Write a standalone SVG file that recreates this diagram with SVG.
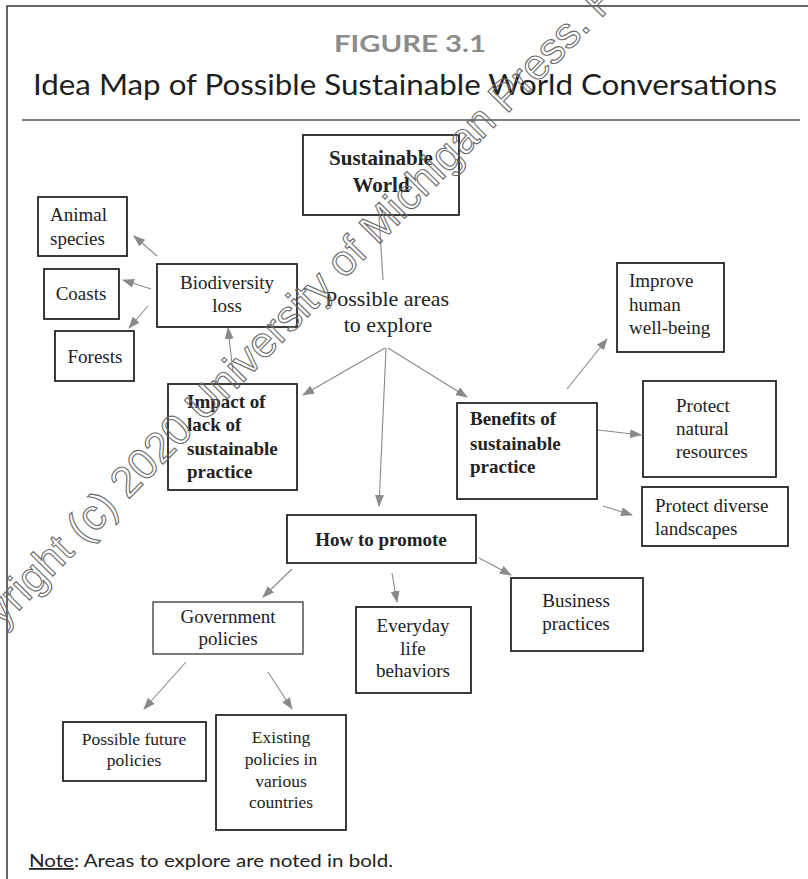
<svg xmlns="http://www.w3.org/2000/svg" width="808" height="879" viewBox="0 0 808 879">
<defs>
<marker id="ah" markerUnits="userSpaceOnUse" markerWidth="12" markerHeight="9" refX="11" refY="4.5" orient="auto">
<path d="M0,0 L12,4.5 L0,9 z" fill="#8a8a8a"/>
</marker>
<style>
.box{fill:#fff;stroke:#262626;stroke-width:1.8}
.t{font-family:"Liberation Serif","Times New Roman",serif;font-size:19px;fill:#222}
.b{font-weight:bold}
.c{text-anchor:middle}
.big{font-size:22px}
.sw{font-size:21px}
.sm{font-size:17.5px}
.con line{stroke:#8a8a8a;stroke-width:1.1;marker-end:url(#ah)}
.con line.plain{marker-end:none}
.sans{font-family:Lato,"Noto Sans",sans-serif}
.wm{font-family:"Liberation Sans",Arial,sans-serif;font-size:43px;fill:none;stroke:#6a6a6a;stroke-width:1.1}
</style>
</defs>
<rect width="808" height="879" fill="#fff"/>
<path d="M7,879 V6 H808" fill="none" stroke="#333" stroke-width="1.5"/>
<line x1="22" y1="120" x2="800" y2="120" stroke="#555" stroke-width="1.5"/>
<text class="sans" x="410" y="52" text-anchor="middle" font-size="23" font-weight="bold" fill="#8c8c8c" textLength="152" lengthAdjust="spacingAndGlyphs">FIGURE 3.1</text>
<text class="sans" x="405" y="95" text-anchor="middle" font-size="29" fill="#1e1e1e" textLength="744" lengthAdjust="spacingAndGlyphs">Idea Map of Possible Sustainable World Conversations</text>

<g class="con" id="connectors">
<line class="plain" x1="379" y1="216" x2="383" y2="280"/>
<line x1="157" y1="256" x2="134" y2="236"/>
<line x1="151" y1="289" x2="123" y2="280"/>
<line x1="148" y1="306" x2="129" y2="328"/>
<line x1="233" y1="372" x2="228" y2="328"/>
<line x1="385" y1="348" x2="303" y2="395"/>
<line x1="386" y1="348" x2="379" y2="506"/>
<line x1="388" y1="348" x2="467" y2="397"/>
<line x1="567" y1="389" x2="607" y2="339"/>
<line x1="598" y1="430" x2="641" y2="435"/>
<line x1="603" y1="506" x2="632" y2="515"/>
<line x1="292" y1="569" x2="263" y2="597"/>
<line x1="392" y1="573" x2="397" y2="602"/>
<line x1="479" y1="558" x2="511" y2="575"/>
<line x1="186" y1="662" x2="144" y2="709"/>
<line x1="268" y1="672" x2="292" y2="709"/>
</g>

<g id="sustainable-world">
<rect class="box" x="303" y="135" width="156" height="80"/>
<text class="t b c sw" x="381" y="165">Sustainable</text>
<text class="t b c sw" x="381" y="192">World</text>
</g>
<g id="animal-species">
<rect class="box" x="38" y="197" width="89" height="59"/>
<text class="t" x="50" y="221">Animal</text>
<text class="t" x="50" y="245">species</text>
</g>
<g id="coasts">
<rect class="box" x="44" y="269" width="75" height="50"/>
<text class="t c" x="81" y="300">Coasts</text>
</g>
<g id="forests">
<rect class="box" x="55" y="331" width="79" height="50"/>
<text class="t c" x="95" y="363">Forests</text>
</g>
<g id="biodiversity-loss">
<rect class="box" x="157" y="264" width="140" height="63"/>
<text class="t c" x="227" y="289">Biodiversity</text>
<text class="t c" x="227" y="312">loss</text>
</g>
<g id="possible-areas">
<text class="t c big" x="387" y="306">Possible areas</text>
<text class="t c big" x="388" y="332">to explore</text>
</g>
<g id="improve-human">
<rect class="box" x="617" y="263" width="107" height="89"/>
<text class="t" x="629" y="287">Improve</text>
<text class="t" x="629" y="311">human</text>
<text class="t" x="629" y="334">well-being</text>
</g>
<g id="impact">
<rect class="box" x="168" y="384" width="129" height="106"/>
<text class="t b" x="187" y="408">Impact of</text>
<text class="t b" x="187" y="431">lack of</text>
<text class="t b" x="187" y="455">sustainable</text>
<text class="t b" x="187" y="478">practice</text>
</g>
<g id="benefits">
<rect class="box" x="457" y="403" width="140" height="96"/>
<text class="t b" x="470" y="425">Benefits of</text>
<text class="t b" x="470" y="450">sustainable</text>
<text class="t b" x="470" y="473">practice</text>
</g>
<g id="protect-natural">
<rect class="box" x="643" y="381" width="133" height="96"/>
<text class="t" x="676" y="412">Protect</text>
<text class="t" x="676" y="435">natural</text>
<text class="t" x="676" y="458">resources</text>
</g>
<g id="protect-diverse">
<rect class="box" x="642" y="487" width="146" height="59"/>
<text class="t" x="655" y="512">Protect diverse</text>
<text class="t" x="655" y="535">landscapes</text>
</g>
<g id="how-to-promote">
<rect class="box" x="287" y="515" width="189" height="48"/>
<text class="t b c" x="381" y="546">How to promote</text>
</g>
<g id="government-policies">
<rect class="box" x="153" y="602" width="150" height="52" style="stroke-width:1.2"/>
<text class="t c" x="228" y="623">Government</text>
<text class="t c" x="228" y="645">policies</text>
</g>
<g id="everyday">
<rect class="box" x="356" y="607" width="115" height="86"/>
<text class="t c" x="413" y="632">Everyday</text>
<text class="t c" x="413" y="655">life</text>
<text class="t c" x="413" y="677">behaviors</text>
</g>
<g id="business">
<rect class="box" x="511" y="578" width="132" height="73"/>
<text class="t c" x="576" y="607">Business</text>
<text class="t c" x="576" y="630">practices</text>
</g>
<g id="possible-future">
<rect class="box" x="63" y="722" width="143" height="59"/>
<text class="t c sm" x="134" y="745">Possible future</text>
<text class="t c sm" x="134" y="766">policies</text>
</g>
<g id="existing-policies">
<rect class="box" x="216" y="715" width="130" height="115"/>
<text class="t c sm" x="281" y="743">Existing</text>
<text class="t c sm" x="281" y="765">policies in</text>
<text class="t c sm" x="281" y="787">various</text>
<text class="t c sm" x="281" y="808">countries</text>
</g>

<text class="sans" x="29" y="867" font-size="18" fill="#222" textLength="364" lengthAdjust="spacingAndGlyphs"><tspan text-decoration="underline">Note</tspan>: Areas to explore are noted in bold.</text>

<text class="wm" transform="translate(-53,684) rotate(-45.5)">Copyright (c) 2020 University of Michigan Press. F</text>
</svg>
